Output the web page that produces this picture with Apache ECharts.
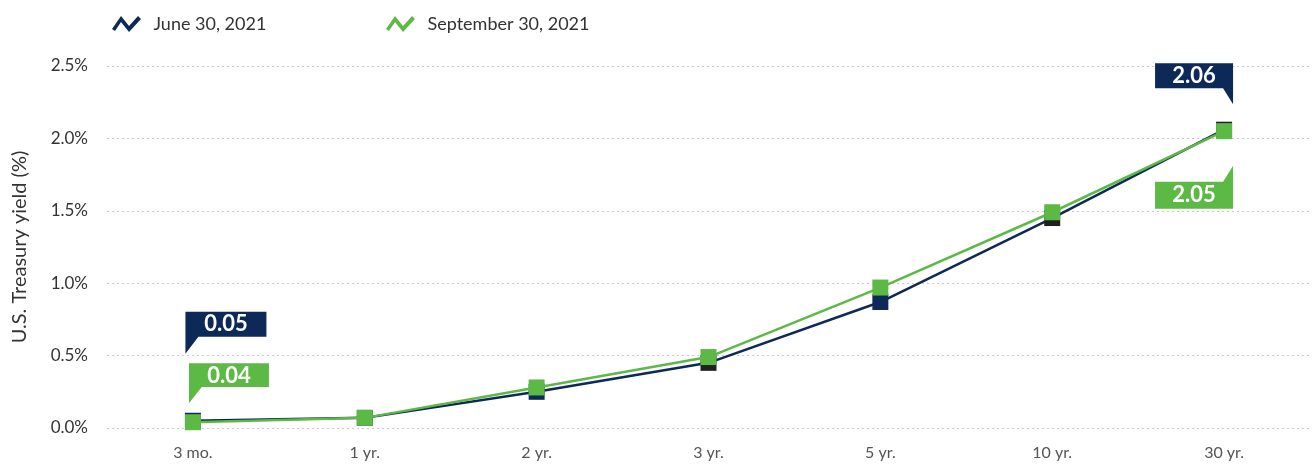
<!DOCTYPE html>
<html>
<head>
<meta charset="utf-8">
<script src="https://cdn.jsdelivr.net/npm/echarts@6/dist/echarts.min.js"></script>
<style>
  html, body { margin: 0; padding: 0; background: #fff; }
  #chart { width: 1313px; height: 466px; }
</style>
</head>
<body>
<div id="chart"></div>
<script>
const maturities = ['3 mo.', '1 yr.', '2 yr.', '3 yr.', '5 yr.', '10 yr.', '30 yr.']
const june2021 = [0.05, 0.07, 0.25, 0.45, 0.87, 1.45, 2.06]
const sept2021 = [0.04, 0.07, 0.28, 0.49, 0.97, 1.49, 2.05]
const seriesNames = ['June 30, 2021', 'September 30, 2021']

const NAVY = '#0c2958'
const CHARCOAL = '#231f20'
const GREEN = '#5db946'
const FONT = 'Lato, "Open Sans", sans-serif'
// the source chart paints a few June markers near-black
const juneMarkerColors = [NAVY, NAVY, NAVY, CHARCOAL, NAVY, CHARCOAL, CHARCOAL]

// zigzag legend icon
const zigzag = 'path://M0 13 L9 0 L17 10 L26 0 L29 3 L17 16 L9 6 L3 15 Z'

// callout shapes: box plus a little tail
const tailDownLeft = 'path://M0 0 H81 V25 H13 L0 42 Z'
const tailDownRight = 'path://M0 0 H78 V25 L78 41 L68 25 H0 Z'
const tailUpRight = 'path://M0 16 H68 L78 0 V43 H0 Z'

const calloutLabel = (dy) => ({
  show: true,
  position: 'inside',
  offset: [0, dy],
  color: '#fff',
  fontFamily: FONT,
  fontWeight: 'bold',
  fontSize: 22,
  formatter: p => p.value.toFixed(2)
})

const legendText = {fontSize: 18, color: '#333', fontFamily: FONT, padding: [0, 0, 0, 7]}

const chart = echarts.init(document.getElementById('chart'), null, {renderer: 'canvas'})

chart.setOption({
  animation: false,
  textStyle: {fontFamily: FONT},
  legend: [
    {
      data: [{name: seriesNames[0], icon: zigzag}],
      left: 107, top: 10,
      itemWidth: 30, itemHeight: 16,
      textStyle: legendText
    },
    {
      data: [{name: seriesNames[1], icon: zigzag}],
      left: 381, top: 10,
      itemWidth: 30, itemHeight: 16,
      textStyle: legendText
    }
  ],
  grid: {left: 107, right: 3, top: 66, bottom: 38, outerBoundsMode: 'none'},
  xAxis: {
    type: 'category',
    data: maturities,
    boundaryGap: true,
    axisLine: {show: false},
    axisTick: {show: false},
    axisLabel: {color: '#555', fontSize: 16, margin: 17, fontFamily: FONT}
  },
  yAxis: {
    type: 'value',
    min: 0, max: 2.5, interval: 0.5,
    name: 'U.S. Treasury yield (%)',
    nameLocation: 'middle',
    nameGap: 77,
    nameTextStyle: {fontSize: 20, color: '#333', fontFamily: FONT},
    axisLine: {show: false},
    axisTick: {show: false},
    axisLabel: {
      color: '#333', fontSize: 17, margin: 19, fontFamily: FONT,
      formatter: v => v.toFixed(1) + '%'
    },
    splitLine: {lineStyle: {color: '#c8c8c8', type: [2, 3], width: 1}}
  },
  series: [
    {
      name: seriesNames[0],
      type: 'line',
      data: june2021.map((v, i) => ({value: v, itemStyle: {color: juneMarkerColors[i]}})),
      symbol: 'rect',
      symbolSize: 16,
      color: NAVY,
      lineStyle: {width: 2.5, color: NAVY},
      z: 2,
      markPoint: {
        data: [
          {coord: [0, june2021[0]], value: june2021[0], symbol: tailDownLeft,
           symbolSize: [81, 42], symbolOffset: [33, -88],
           itemStyle: {color: NAVY}, label: calloutLabel(-8.5)},
          {coord: [6, june2021[6]], value: june2021[6], symbol: tailDownRight,
           symbolSize: [78, 41], symbolOffset: [-30, -46],
           itemStyle: {color: NAVY}, label: calloutLabel(-8)}
        ]
      }
    },
    {
      name: seriesNames[1],
      type: 'line',
      data: sept2021,
      symbol: 'rect',
      symbolSize: 16,
      color: GREEN,
      lineStyle: {width: 2.5, color: GREEN},
      itemStyle: {color: GREEN},
      z: 3,
      markPoint: {
        data: [
          {coord: [0, sept2021[0]], value: sept2021[0], symbol: tailDownLeft,
           symbolSize: [80, 40], symbolOffset: [36, -39],
           itemStyle: {color: GREEN}, label: calloutLabel(-7.5)},
          {coord: [6, sept2021[6]], value: sept2021[6], symbol: tailUpRight,
           symbolSize: [78, 43], symbolOffset: [-30, 56],
           itemStyle: {color: GREEN}, label: calloutLabel(8)}
        ]
      }
    }
  ]
})
</script>
</body>
</html>
